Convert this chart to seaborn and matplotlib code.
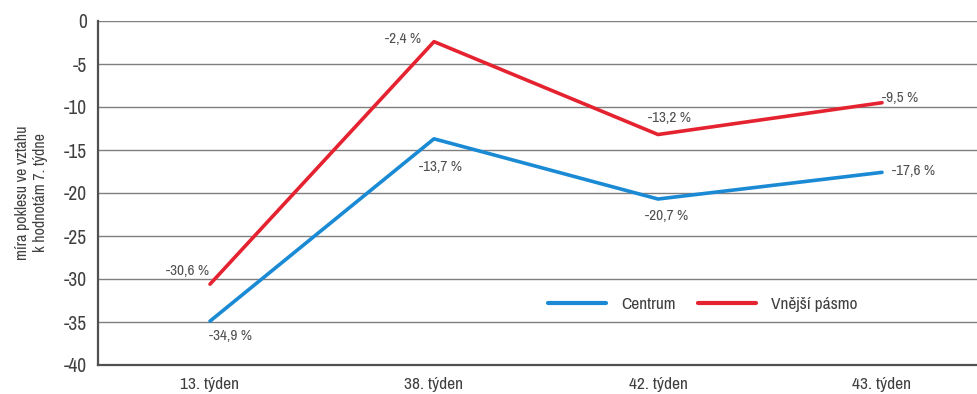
import matplotlib
matplotlib.use("Agg")
import matplotlib.pyplot as plt
import seaborn as sns
import pandas as pd
from matplotlib.ticker import FixedLocator

categories = ["13. týden", "38. týden", "42. týden", "43. týden"]
centrum = [-34.9, -13.7, -20.7, -17.6]
vnejsi = [-30.6, -2.4, -13.2, -9.5]
series_names = ["Centrum", "Vnější pásmo"]

sns.set_style("white")
plt.rcParams['font.family'] = ['Liberation Sans Narrow', 'Archivo Narrow', 'DejaVu Sans']

df = pd.DataFrame({
    "x": list(range(len(categories))) * 2,
    "value": centrum + vnejsi,
    "series": [series_names[0]] * 4 + [series_names[1]] * 4,
})

fig = plt.figure(figsize=(9.78, 3.94), dpi=100)
ax = fig.add_axes([98 / 978, 1 - 365 / 394, 1 - 98 / 978, (365 - 21) / 394])

palette = {"Centrum": "#1a8ad4", "Vnější pásmo": "#e52330"}
sns.lineplot(data=df, x="x", y="value", hue="series", palette=palette, lw=2.6,
             ax=ax, legend=True, sort=False)

ax.set_xlim(-0.5, -0.5 + (978 - 98) / 224)
ax.set_ylim(-40, 0)
ax.set_yticks(range(-40, 1, 5))
ax.set_yticklabels([str(v) for v in range(-40, 1, 5)], fontsize=14, color="#404040")
ax.yaxis.grid(True, color="#7f7f7f", lw=1)
ax.xaxis.grid(False)
ax.set_xticks(range(len(categories)))
ax.set_xticklabels(categories, fontsize=12.5, color="#404040")
ax.xaxis.set_minor_locator(FixedLocator([0.5, 1.5, 2.5]))
ax.tick_params(axis="x", which="major", length=0, pad=9)
ax.tick_params(axis="x", which="minor", direction="in", length=6, width=1, color="#505050")
ax.tick_params(axis="y", length=0, pad=8)
for s in ["top", "right"]:
    ax.spines[s].set_visible(False)
for s in ["left", "bottom"]:
    ax.spines[s].set_color("#505050")
    ax.spines[s].set_linewidth(1.6)
ax.set_xlabel("")
ax.set_ylabel("míra poklesu ve vztahu\nk hodnotám 7. týdne", fontsize=11.5, color="#404040",
              labelpad=11, linespacing=1.3)

leg = ax.legend(loc="center left", bbox_to_anchor=(0.494, 0.176), ncol=2, frameon=False,
                fontsize=12.5, handlelength=3.3, columnspacing=1.3, handletextpad=0.9)
for t in leg.get_texts():
    t.set_color("#404040")
for line in leg.get_lines():
    line.set_linewidth(3)

lab_kw = dict(fontsize=11, color="#505050")
offsets_c = [(0.09, -1.7), (0.03, -3.3), (0.04, -2.0), (0.14, 0.15)]
offsets_v = [(-0.1, 1.5), (-0.14, 0.3), (0.05, 1.9), (0.08, 0.6)]
for i, v in enumerate(centrum):
    dx, dy = offsets_c[i]
    ax.text(i + dx, v + dy, f"{v:.1f} %".replace(".", ","), ha="center", va="center", **lab_kw)
for i, v in enumerate(vnejsi):
    dx, dy = offsets_v[i]
    ax.text(i + dx, v + dy, f"{v:.1f} %".replace(".", ","), ha="center", va="center", **lab_kw)

fig.savefig("out.png", dpi=100)
